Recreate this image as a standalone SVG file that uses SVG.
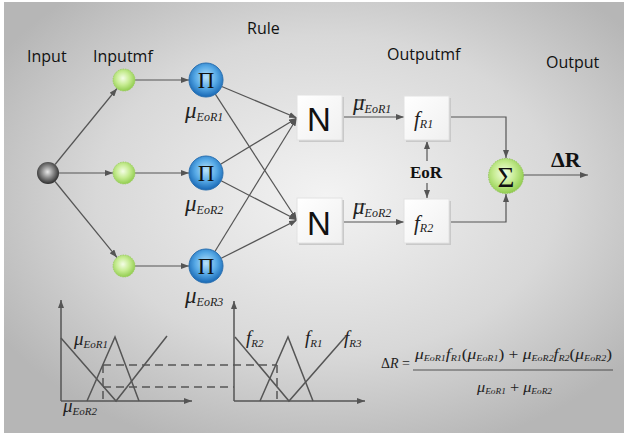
<svg xmlns="http://www.w3.org/2000/svg" width="626" height="435" viewBox="0 0 626 435">
<defs>
<radialGradient id="bg" cx="0.52" cy="0.45" r="0.62">
<stop offset="0" stop-color="#f3f3f3"/>
<stop offset="0.6" stop-color="#d8d8d8"/>
<stop offset="1" stop-color="#b6b6b6"/>
</radialGradient>
<radialGradient id="green" cx="0.45" cy="0.42" r="0.6">
<stop offset="0" stop-color="#f4fde6"/>
<stop offset="0.5" stop-color="#c7ec93"/>
<stop offset="1" stop-color="#8fcb4c"/>
</radialGradient>
<radialGradient id="blue" cx="0.5" cy="0.42" r="0.58">
<stop offset="0" stop-color="#b9e2fb"/>
<stop offset="0.55" stop-color="#56a9e6"/>
<stop offset="1" stop-color="#1767b4"/>
</radialGradient>
<radialGradient id="ball" cx="0.48" cy="0.45" r="0.6">
<stop offset="0" stop-color="#e8e8e8"/>
<stop offset="0.45" stop-color="#8a8a8a"/>
<stop offset="1" stop-color="#1c1c1c"/>
</radialGradient>
<linearGradient id="box" x1="0" y1="0" x2="1" y2="1">
<stop offset="0" stop-color="#ffffff"/>
<stop offset="1" stop-color="#f0f0f0"/>
</linearGradient>
<marker id="ah" markerWidth="8" markerHeight="6" refX="8" refY="3" orient="auto" markerUnits="userSpaceOnUse">
<path d="M0,0 L8,3 L0,6 z" fill="#555"/>
</marker>
</defs>
<style>
.lbl{font-family:"Open Sans","Liberation Sans",sans-serif;font-size:16px;fill:#111}
.mu{font-family:"Liberation Serif","DejaVu Serif",serif;font-style:italic;font-weight:normal;fill:#222}
.sb{font-size:12px}
.con{stroke:#555;stroke-width:1.2;fill:none;marker-end:url(#ah)}
.axa{stroke:#555;stroke-width:1.5;fill:none;marker-end:url(#ah)}
.cv{stroke:#555;stroke-width:1.5;fill:none}
.dash{stroke:#555;stroke-width:1.5;fill:none;stroke-dasharray:8,5}
.bar{stroke:#222;stroke-width:1}
.bx{fill:url(#box);stroke:#e2e2e2;stroke-width:1}
.sh{fill:#c9c9c9}
.N{font-family:"Liberation Sans",sans-serif;font-size:33px;fill:#111;text-anchor:middle}
.bold{font-family:"Liberation Serif",serif;font-weight:bold;fill:#111}
.sym{font-family:"Liberation Serif",serif;fill:#111;text-anchor:middle}
</style>
<rect x="4" y="2" width="620" height="431" fill="url(#bg)"/>

<g id="titles">
<text class="lbl" x="27" y="62">Input</text>
<text class="lbl" x="93" y="62">Inputmf</text>
<text class="lbl" x="247" y="34">Rule</text>
<text class="lbl" x="387" y="60">Outputmf</text>
<text class="lbl" x="546" y="68">Output</text>
</g>

<g id="connectors">
<line class="con" x1="55" y1="164.5" x2="117" y2="88.5"/>
<line class="con" x1="59" y1="173" x2="113" y2="173"/>
<line class="con" x1="55" y1="181.5" x2="117" y2="257.5"/>
<line class="con" x1="135" y1="80" x2="189" y2="80"/>
<line class="con" x1="135" y1="173" x2="189" y2="173"/>
<line class="con" x1="135" y1="266" x2="189" y2="266"/>
<line class="con" x1="221.7" y1="86.5" x2="297" y2="118"/>
<line class="con" x1="215.3" y1="94.2" x2="297" y2="220"/>
<line class="con" x1="220.6" y1="164.2" x2="297" y2="118"/>
<line class="con" x1="221.1" y1="180.8" x2="297" y2="220"/>
<line class="con" x1="214.9" y1="251.5" x2="297" y2="118"/>
<line class="con" x1="221.2" y1="258.3" x2="297" y2="220"/>
<line class="con" x1="342" y1="117" x2="404" y2="117"/>
<line class="con" x1="342" y1="222" x2="404" y2="222"/>
<line class="con" x1="427" y1="161" x2="427" y2="141"/>
<line class="con" x1="427" y1="183" x2="427" y2="198"/>
<path class="con" d="M449,117 H506 V158"/>
<path class="con" d="M449,222 H506 V194"/>
<line class="con" x1="523" y1="175" x2="588" y2="175"/>
</g>

<g id="input">
<circle cx="48" cy="173" r="11" fill="url(#ball)"/>
</g>
<g id="inputmf1"><circle cx="124" cy="80" r="11" fill="url(#green)" stroke="#9acb60" stroke-width="0.8" stroke-dasharray="1.5,1"/></g>
<g id="inputmf2"><circle cx="124" cy="173" r="11" fill="url(#green)" stroke="#9acb60" stroke-width="0.8" stroke-dasharray="1.5,1"/></g>
<g id="inputmf3"><circle cx="124" cy="266" r="11" fill="url(#green)" stroke="#9acb60" stroke-width="0.8" stroke-dasharray="1.5,1"/></g>

<g id="rule1">
<circle cx="206" cy="80" r="17" fill="url(#blue)" stroke="#2a70b0" stroke-width="1"/>
<text class="sym" x="206" y="88" font-size="23">Π</text>
<text class="mu" x="185" y="118" font-size="23">μ<tspan class="sb" dy="3">EoR1</tspan></text>
</g>
<g id="rule2">
<circle cx="206" cy="173" r="17" fill="url(#blue)" stroke="#2a70b0" stroke-width="1"/>
<text class="sym" x="206" y="181" font-size="23">Π</text>
<text class="mu" x="185" y="211" font-size="23">μ<tspan class="sb" dy="3">EoR2</tspan></text>
</g>
<g id="rule3">
<circle cx="206" cy="266" r="17" fill="url(#blue)" stroke="#2a70b0" stroke-width="1"/>
<text class="sym" x="206" y="274" font-size="23">Π</text>
<text class="mu" x="185" y="303" font-size="23">μ<tspan class="sb" dy="3">EoR3</tspan></text>
</g>

<g id="norm1">
<rect class="sh" x="299" y="97" width="45" height="45"/>
<rect class="bx" x="297" y="95" width="45" height="45"/>
<text class="N" x="319" y="131">N</text>
</g>
<g id="norm2">
<rect class="sh" x="299" y="200" width="45" height="45"/>
<rect class="bx" x="297" y="198" width="45" height="45"/>
<text class="N" x="319" y="235">N</text>
</g>
<g id="mubar">
<line class="bar" x1="355" y1="100" x2="366" y2="100"/>
<text class="mu" x="353" y="110" font-size="23">μ<tspan class="sb" dy="3">EoR1</tspan></text>
<line class="bar" x1="355" y1="204" x2="366" y2="204"/>
<text class="mu" x="353" y="214" font-size="23">μ<tspan class="sb" dy="3">EoR2</tspan></text>
</g>

<g id="fR1">
<rect class="sh" x="406" y="98" width="45" height="44"/>
<rect class="bx" x="404" y="96" width="45" height="44"/>
<text class="mu" x="414" y="126" font-size="21">f<tspan class="sb" dy="2">R1</tspan></text>
</g>
<g id="fR2">
<rect class="sh" x="406" y="201" width="45" height="44"/>
<rect class="bx" x="404" y="199" width="45" height="44"/>
<text class="mu" x="414" y="230" font-size="21">f<tspan class="sb" dy="2">R2</tspan></text>
</g>
<g id="eor">
<text class="bold" x="410" y="178" font-size="17">EoR</text>
</g>

<g id="sum">
<circle cx="506" cy="176" r="17.5" fill="url(#green)" stroke="#8cc050" stroke-width="0.8" stroke-dasharray="1.5,1"/>
<text class="sym" x="506" y="187" font-size="29">Σ</text>
</g>
<g id="output">
<text class="bold" x="551" y="167" font-size="22">ΔR</text>
</g>

<g id="chart1">
<line class="axa" x1="61" y1="401" x2="192" y2="401"/>
<line class="axa" x1="61" y1="401" x2="61" y2="300"/>
<polyline class="cv" points="61,338 116,401 167,336"/>
<polyline class="cv" points="87,401 115,337 139,401"/>
<line class="dash" x1="103" y1="365" x2="103" y2="401"/>
<text class="mu" x="74" y="345" font-size="19">μ<tspan font-size="11" dy="3">EoR1</tspan></text>
<text class="mu" x="63" y="412" font-size="19">μ<tspan font-size="11" dy="3">EoR2</tspan></text>
</g>
<g id="dashlinks">
<line class="dash" x1="103" y1="365" x2="277" y2="365"/>
<line class="dash" x1="103" y1="387" x2="234" y2="387"/>
</g>
<g id="chart2">
<line class="axa" x1="234" y1="401" x2="365" y2="401"/>
<line class="axa" x1="234" y1="401" x2="234" y2="301"/>
<polyline class="cv" points="235,337 289,401 346,336"/>
<polyline class="cv" points="260,401 288,337 313,401"/>
<line class="dash" x1="277" y1="365" x2="277" y2="401"/>
<text class="mu" x="246" y="344" font-size="19">f<tspan font-size="11" dy="3">R2</tspan></text>
<text class="mu" x="305" y="344" font-size="19">f<tspan font-size="11" dy="3">R1</tspan></text>
<text class="mu" x="344" y="344" font-size="19">f<tspan font-size="11" dy="3">R3</tspan></text>
</g>

<g id="formula">
<text class="mu" x="381" y="368" font-size="14"><tspan font-style="normal">Δ</tspan>R <tspan font-style="normal">=</tspan></text>
<text class="mu" x="415" y="359" font-size="14" textLength="197" lengthAdjust="spacingAndGlyphs">μ<tspan font-size="8" dy="2">EoR1</tspan><tspan dy="-2">f</tspan><tspan font-size="8" dy="2">R1</tspan><tspan dy="-2" font-style="normal">(</tspan>μ<tspan font-size="8" dy="2">EoR1</tspan><tspan dy="-2" font-style="normal">) + </tspan>μ<tspan font-size="8" dy="2">EoR2</tspan><tspan dy="-2">f</tspan><tspan font-size="8" dy="2">R2</tspan><tspan dy="-2" font-style="normal">(</tspan>μ<tspan font-size="8" dy="2">EoR2</tspan><tspan dy="-2" font-style="normal">)</tspan></text>
<line x1="413" y1="370" x2="613" y2="370" stroke="#333" stroke-width="0.8"/>
<text class="mu" x="477" y="392" font-size="14" textLength="75" lengthAdjust="spacingAndGlyphs">μ<tspan font-size="8" dy="2">EoR1</tspan><tspan dy="-2" font-style="normal"> + </tspan>μ<tspan font-size="8" dy="2">EoR2</tspan></text>
</g>
</svg>
